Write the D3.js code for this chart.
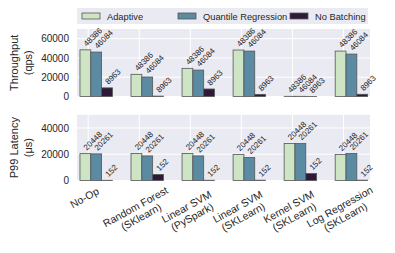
<!DOCTYPE html>
<html>
<head>
<meta charset="utf-8">
<script src="https://cdn.jsdelivr.net/npm/d3@7"></script>
<style>
  body { margin: 0; background: #fff; }
  text { font-family: "Liberation Sans", Arial, sans-serif; fill: #262626; }
</style>
</head>
<body>
<div id="chart-area"></div>
<script>
// categories and series
var categories = [
  ["No-Op"],
  ["Random Forest", "(SKlearn)"],
  ["Linear SVM", "(PySpark)"],
  ["Linear SVM", "(SKLearn)"],
  ["Kernel SVM", "(SKLearn)"],
  ["Log Regression", "(SKLearn)"]
];
var seriesNames = ["Adaptive", "Quantile Regression", "No Batching"];

// throughput (qps)
var throughputAdaptive = [48386, 23000, 29200, 48200, 200, 47100];
var throughputQuantile = [46084, 20200, 27400, 47100, 200, 44000];
var throughputNoBatch = [8963, 400, 7800, 2200, 100, 2300];
var throughputLabels = ["48386", "46084", "8963"];
var throughputTicks = [0, 20000, 40000, 60000];

// p99 latency (us)
var latencyAdaptive = [20448, 20500, 20500, 19800, 28100, 19800];
var latencyQuantile = [20261, 18700, 18700, 17500, 28100, 20500];
var latencyNoBatch = [152, 4600, 200, 250, 5300, 250];
var latencyLabels = ["20448", "20261", "152"];
var latencyTicks = [0, 20000, 40000];

var colors = ["#cde4c5", "#5b8aa3", "#2e1a37"];

var width = 395, height = 253;
var left = 77, right = 370;

var svg = d3.select("#chart-area").append("svg")
  .attr("width", width)
  .attr("height", height);

var x = d3.scaleLinear().domain([-0.22, 5.52]).range([left, right]);
var barW = 0.212;
var barOffsets = [-0.162, 0.05, 0.262];

function panel(top, bottom, maxY, ticks, seriesData, labels, title) {
  var y = d3.scaleLinear().domain([0, maxY]).range([bottom, top]);
  var g = svg.append("g");

  g.append("rect")
    .attr("x", left).attr("y", top)
    .attr("width", right - left).attr("height", bottom - top)
    .attr("fill", "#eaeaf2");

  // grid
  g.selectAll(".hgrid").data(ticks).enter().append("line")
    .attr("x1", left).attr("x2", right)
    .attr("y1", d => y(d)).attr("y2", d => y(d))
    .attr("stroke", "#fff").attr("stroke-width", 1);
  g.selectAll(".vgrid").data(categories).enter().append("line")
    .attr("x1", (d, i) => x(i)).attr("x2", (d, i) => x(i))
    .attr("y1", top).attr("y2", bottom)
    .attr("stroke", "#fff").attr("stroke-width", 1);

  // y axis
  var yAxis = d3.axisLeft(y).tickValues(ticks).tickSize(0).tickPadding(8)
    .tickFormat(d3.format("d"));
  var ya = g.append("g").attr("transform", `translate(${left},0)`).call(yAxis);
  ya.select(".domain").remove();
  ya.selectAll("text").attr("font-size", "10px")
    .style("font-family", "'Liberation Sans', Arial, sans-serif").attr("fill", "#262626");

  // bars
  seriesData.forEach((vals, k) => {
    g.selectAll(".bar" + k).data(vals).enter().append("rect")
      .attr("x", (d, i) => x(i + barOffsets[k]))
      .attr("y", d => y(d))
      .attr("width", x(barW) - x(0))
      .attr("height", d => bottom - y(d))
      .attr("fill", colors[k])
      .attr("stroke", "#555")
      .attr("stroke-width", 0.8);

    g.selectAll(".lab" + k).data(vals).enter().append("text")
      .attr("transform", (d, i) => `translate(${x(i + barOffsets[k] + barW / 2) + 1.5},${y(d) - 3}) rotate(-45)`)
      .attr("font-size", "8px")
      .text(labels[k]);
  });

  // y title
  var cy = (top + bottom) / 2;
  var t = g.append("text")
    .attr("transform", `translate(18,${cy}) rotate(-90)`)
    .attr("text-anchor", "middle")
    .attr("font-size", "11px");
  title.forEach((line, i) => {
    t.append("tspan").attr("x", 0).attr("dy", i === 0 ? 0 : "1.3em").text(line);
  });
  return y;
}

panel(29, 96.5, 70000, throughputTicks,
  [throughputAdaptive, throughputQuantile, throughputNoBatch],
  throughputLabels, ["Throughput", "(qps)"]);
panel(114.8, 180.5, 50000, latencyTicks,
  [latencyAdaptive, latencyQuantile, latencyNoBatch],
  latencyLabels, ["P99 Latency", "(\u03bcs)"]);

// x labels
var xl = svg.append("g");
categories.forEach((lines, i) => {
  var tx = xl.append("text")
    .attr("transform", `translate(${x(i) - 2},${lines.length > 1 ? 210 : 201}) rotate(-29)`)
    .attr("text-anchor", "middle")
    .attr("font-size", "10.5px");
  lines.forEach((line, j) => {
    tx.append("tspan").attr("x", 0).attr("dy", j === 0 ? 0 : "1.1em").text(line);
  });
});

// legend
var lg = svg.append("g");
lg.append("rect").attr("x", 77).attr("y", 8).attr("width", 291).attr("height", 16)
  .attr("fill", "#eaeaf2");
var legendX = [82, 178, 290];
seriesNames.forEach((name, k) => {
  lg.append("rect").attr("x", legendX[k]).attr("y", 13).attr("width", 18).attr("height", 6)
    .attr("fill", colors[k]).attr("stroke", "#555").attr("stroke-width", 0.8);
  lg.append("text").attr("x", legendX[k] + 25).attr("y", 19.5)
    .attr("font-size", "9.3px").text(name);
});
</script>
</body>
</html>
